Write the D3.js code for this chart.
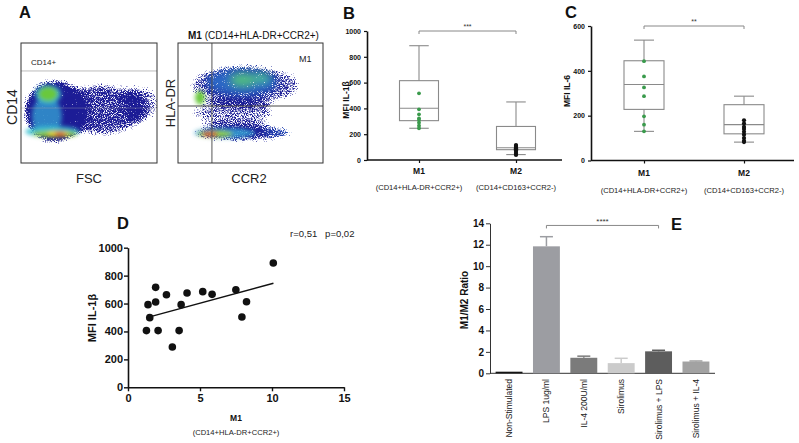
<!DOCTYPE html>
<html><head><meta charset="utf-8">
<script src="https://cdn.jsdelivr.net/npm/d3@7"></script>
<style>body{margin:0;background:#fff}svg{display:block}text{font-family:"Liberation Sans",Arial,sans-serif}</style>
</head><body><svg id="c" width="799" height="443"></svg>
<script>
// ---------------- DATA ----------------
// Panel A: flow cytometry density regions (channel units 0-1000), density level 0..1
const flowDomain = [0, 1000];
const fscCd14Clusters = [
  {x: 250, y: 430, sx: 235, sy: 270, level: 0.0, op: 0.95, grain: true},
  {x: 590, y: 445, sx: 340, sy: 225, level: 0.0, op: 0.74, grain: true},
  {x: 880, y: 500, sx: 150, sy: 165, level: 0.0, op: 0.6, grain: true},
  {x: 190, y: 390, sx: 110, sy: 165, level: 0.3, op: 0.8, grain: false},
  {x: 199, y: 572, sx: 95, sy: 80, level: 0.36, op: 0.9, grain: false},
  {x: 199, y: 575, sx: 72, sy: 62, level: 0.55, op: 1, grain: false},
  {x: 230, y: 262, sx: 200, sy: 45, level: 0.38, op: 0.9, grain: false},
  {x: 250, y: 242, sx: 165, sy: 28, level: 0.6, op: 1, grain: false},
  {x: 272, y: 242, sx: 80, sy: 20, level: 0.75, op: 1, grain: false},
  {x: 287, y: 242, sx: 40, sy: 14, level: 0.95, op: 1, grain: false}
];
const cd14Gate = 767;
const cd14Ghost = 458;
const ccr2HlaClusters = [
  {x: 462, y: 650, sx: 390, sy: 180, level: 0.0, op: 0.68, grain: true},
  {x: 440, y: 675, sx: 250, sy: 110, level: 0.22, op: 0.75, grain: true},
  {x: 448, y: 692, sx: 90, sy: 55, level: 0.48, op: 0.9, grain: true},
  {x: 579, y: 708, sx: 60, sy: 45, level: 0.45, op: 0.9, grain: true},
  {x: 152, y: 545, sx: 34, sy: 58, level: 0.55, op: 1, grain: false},
  {x: 380, y: 420, sx: 300, sy: 120, level: 0.0, op: 0.62, grain: true},
  {x: 440, y: 250, sx: 345, sy: 75, level: 0.0, op: 0.85, grain: true},
  {x: 700, y: 255, sx: 130, sy: 35, level: 0.15, op: 0.7, grain: true},
  {x: 324, y: 250, sx: 210, sy: 42, level: 0.3, op: 0.9, grain: false},
  {x: 255, y: 242, sx: 120, sy: 28, level: 0.6, op: 1, grain: false},
  {x: 221, y: 242, sx: 55, sy: 17, level: 0.92, op: 1, grain: false}
];
const ccr2Gate = 234;
const hlaGate = 475;

// Panels B & C: box plots
const groups = ["M1", "M2"];
const groupSubtitles = ["(CD14+HLA-DR+CCR2+)", "(CD14+CD163+CCR2-)"];
// [min, q1, median, q3, max]
const il1bStats = [[246, 305, 401, 615, 886], [42, 80, 95, 260, 450]];
const il1bDots = [[517, 393, 354, 323, 310, 289, 266, 246], [116, 108, 100, 92, 84, 74, 62, 48, 39]];
const il1bTicks = [0, 200, 400, 600, 800, 1000];
const il6Stats = [[130, 228, 339, 445, 537], [82, 119, 160, 249, 287]];
const il6Dots = [[443, 375, 326, 287, 197, 160, 130], [179, 165, 150, 140, 128, 115, 100, 88, 82]];
const il6Ticks = [0, 200, 400, 600];

// Panel D: correlation
const corrX = [1.28, 1.39, 1.51, 1.92, 1.92, 2.09, 2.67, 3.08, 3.55, 3.69, 4.10, 5.19, 5.84, 7.49, 7.91, 8.23, 10.09];
const corrY = [406, 592, 499, 716, 611, 406, 663, 289, 406, 592, 675, 685, 666, 699, 504, 613, 890];
const fitX = [1.5, 10.1];
const fitY = [504, 745];
const corrXTicks = [0, 5, 10, 15];
const corrYTicks = [0, 200, 400, 600, 800, 1000];

// Panel E: bar chart
const conditions = ["Non-Stimulated", "LPS 1ug/ml", "IL-4 200U/ml", "Sirolimus", "Sirolimus + LPS", "Sirolimus + IL-4"];
const ratioMean = [0.15, 11.85, 1.45, 0.95, 2.05, 1.1];
const ratioUpper = [0.15, 12.75, 1.6, 1.4, 2.15, 1.15];
const ratioTicks = [0, 2, 4, 6, 8, 10, 12, 14];
const barColors = ["#151515", "#9c9da2", "#7b7b7b", "#cbcbcb", "#5d5d5d", "#a2a2a2"];

// ---------------- DRAW ----------------
const svg = d3.select("#c");
svg.append("rect").attr("width", 799).attr("height", 443).attr("fill", "#fff");
const defs = svg.append("defs");
const blur = defs.append("filter").attr("id", "blur").attr("x", "-20%").attr("y", "-20%").attr("width", "140%").attr("height", "140%");
blur.append("feGaussianBlur").attr("stdDeviation", 2);

// grainy density filter: dense cores solid, sparse edges become scattered events
const sp = defs.append("filter").attr("id", "speck").attr("x", "-20%").attr("y", "-20%").attr("width", "140%").attr("height", "140%")
  .attr("color-interpolation-filters", "sRGB");
sp.append("feGaussianBlur").attr("in", "SourceGraphic").attr("stdDeviation", 4).attr("result", "b");
const bs = sp.append("feComponentTransfer").attr("in", "b").attr("result", "bsolid");
bs.append("feFuncA").attr("type", "discrete").attr("tableValues", "0 1 1 1 1 1 1 1 1 1 1 1 1 1 1 1 1 1 1 1");
sp.append("feColorMatrix").attr("in", "b").attr("type", "matrix")
  .attr("values", "0 0 0 0 1  0 0 0 0 1  0 0 0 0 1  0 0 0 1 0").attr("result", "bA");
sp.append("feTurbulence").attr("type", "fractalNoise").attr("baseFrequency", 1.1).attr("numOctaves", 2).attr("seed", 7).attr("result", "n");
sp.append("feColorMatrix").attr("in", "n").attr("type", "matrix")
  .attr("values", "0 0 0 0 1  0 0 0 0 1  0 0 0 0 1  1 0 0 0 0").attr("result", "nA");
sp.append("feComposite").attr("in", "bA").attr("in2", "nA").attr("operator", "arithmetic")
  .attr("k1", 0).attr("k2", 0.5).attr("k3", 0.5).attr("k4", 0).attr("result", "sum");
const mk = sp.append("feComponentTransfer").attr("in", "sum").attr("result", "mask");
mk.append("feFuncA").attr("type", "linear").attr("slope", 10).attr("intercept", -5.3);
sp.append("feComposite").attr("in", "bsolid").attr("in2", "mask").attr("operator", "in");

const jet = d3.scaleLinear()
  .domain([0, 0.2, 0.38, 0.55, 0.75, 0.92])
  .range(["#1c1d96", "#2f6fd0", "#37c2d3", "#69c83c", "#f1d21f", "#e2331c"]);

function panelLabel(t, x, y) {
  svg.append("text").attr("x", x).attr("y", y).attr("font-size", 16.5).attr("font-weight", "bold").attr("fill", "#111").text(t);
}

// ---- Panel A ----
function flowPlot(x0, x1, y0, y1, clusters, clipId) {
  const xs = d3.scaleLinear().domain(flowDomain).range([x0, x1]);
  const ys = d3.scaleLinear().domain(flowDomain).range([y1, y0]);
  defs.append("clipPath").attr("id", clipId).append("rect")
    .attr("x", x0).attr("y", y0).attr("width", x1 - x0).attr("height", y1 - y0);
  const root = svg.append("g").attr("clip-path", `url(#${clipId})`);
  const gGrain = root.append("g").attr("filter", "url(#speck)");
  const gSolid = root.append("g").attr("filter", "url(#blur)");
  const draw = (g, data) => g.selectAll("ellipse").data(data).join("ellipse")
    .attr("cx", d => xs(d.x)).attr("cy", d => ys(d.y))
    .attr("rx", d => xs(d.sx) - xs(0)).attr("ry", d => ys(0) - ys(d.sy))
    .attr("fill", d => jet(d.level)).attr("opacity", d => d.op);
  draw(gGrain, clusters.filter(d => d.grain));
  draw(gSolid, clusters.filter(d => !d.grain));
  return {xs, ys};
}
panelLabel("A", 19, 18);
const p1 = flowPlot(21, 157, 43, 163, fscCd14Clusters, "clipA1");
svg.append("line").attr("x1", 21).attr("x2", 157).attr("y1", p1.ys(cd14Gate)).attr("y2", p1.ys(cd14Gate)).attr("stroke", "#bbb").attr("stroke-width", 1);
svg.append("line").attr("x1", 21).attr("x2", 157).attr("y1", p1.ys(cd14Ghost)).attr("y2", p1.ys(cd14Ghost)).attr("stroke", "#aaa").attr("stroke-width", 0.6).attr("opacity", 0.6);
svg.append("rect").attr("x", 21).attr("y", 43).attr("width", 136).attr("height", 120).attr("fill", "none").attr("stroke", "#333").attr("stroke-width", 1);
svg.append("text").attr("x", 31).attr("y", 65).attr("font-size", 8).attr("fill", "#222").text("CD14+");
svg.append("text").attr("transform", "translate(17,107) rotate(-90)").attr("text-anchor", "middle").attr("font-size", 14).attr("fill", "#222").text("CD14");
svg.append("text").attr("x", 89).attr("y", 183).attr("text-anchor", "middle").attr("font-size", 13).attr("fill", "#222").text("FSC");

const p2 = flowPlot(178, 323, 43, 163, ccr2HlaClusters, "clipA2");
svg.append("line").attr("x1", p2.xs(ccr2Gate)).attr("x2", p2.xs(ccr2Gate)).attr("y1", 43).attr("y2", 163).attr("stroke", "#555").attr("stroke-width", 1);
svg.append("line").attr("x1", 178).attr("x2", 323).attr("y1", p2.ys(hlaGate)).attr("y2", p2.ys(hlaGate)).attr("stroke", "#444").attr("stroke-width", 1);
svg.append("rect").attr("x", 178).attr("y", 43).attr("width", 145).attr("height", 120).attr("fill", "none").attr("stroke", "#333").attr("stroke-width", 1);
svg.append("text").attr("x", 299).attr("y", 62).attr("font-size", 9).attr("fill", "#222").text("M1");
const tA = svg.append("text").attr("x", 188).attr("y", 39).attr("font-size", 10).attr("fill", "#111");
tA.append("tspan").attr("font-weight", "bold").text("M1");
tA.append("tspan").text(" (CD14+HLA-DR+CCR2+)");
svg.append("text").attr("transform", "translate(175,103) rotate(-90)").attr("text-anchor", "middle").attr("font-size", 13).attr("fill", "#222").text("HLA-DR");
svg.append("text").attr("x", 249).attr("y", 183).attr("text-anchor", "middle").attr("font-size", 13).attr("fill", "#222").text("CCR2");

// ---- Box plots ----
function boxPanel(o) {
  const y = d3.scaleLinear().domain([0, o.max]).range([o.y0, o.y1]);
  const x = d3.scalePoint().domain(groups).range(o.xr);
  const g = svg.append("g");
  const ya = g.append("g").attr("transform", `translate(${o.ax},0)`)
    .call(d3.axisLeft(y).tickValues(o.ticks).tickFormat(d3.format("d")).tickSize(3).tickSizeOuter(0));
  ya.select(".domain").attr("stroke", "#111").attr("stroke-width", 1.6);
  ya.selectAll(".tick line").attr("stroke", "#111").attr("stroke-width", 1.2);
  ya.selectAll("text").attr("font-size", 7).attr("font-weight", "bold").attr("fill", "#111").attr("font-family", "Liberation Sans, Arial");
  const xa = g.append("g").attr("transform", `translate(0,${o.y0})`)
    .call(d3.axisBottom(x).tickSize(3).tickFormat(""));
  xa.select(".domain").remove();
  xa.selectAll(".tick line").attr("stroke", "#111").attr("stroke-width", 1.2);
  g.append("line").attr("x1", o.ax).attr("x2", o.axEnd).attr("y1", o.y0).attr("y2", o.y0).attr("stroke", "#111").attr("stroke-width", 1.6);
  groups.forEach((grp, i) => {
    g.append("text").attr("x", x(grp)).attr("y", o.y0 + 13.5 + (o.lblShift || 0)).attr("text-anchor", "middle").attr("font-size", 8.5).attr("font-weight", "bold").attr("fill", "#111").text(grp);
    g.append("text").attr("x", x(grp)).attr("y", o.y0 + 30 + (o.lblShift || 0)).attr("text-anchor", "middle").attr("font-size", 7.6).attr("fill", "#222").text(groupSubtitles[i]);
  });
  g.append("text").attr("transform", `translate(${o.labX},${o.labY}) rotate(-90)`).attr("text-anchor", "middle")
    .attr("font-size", o.labSize).attr("font-weight", "bold").attr("fill", "#111").text(o.label);
  const bw = o.bw;
  groups.forEach((grp, i) => {
    const s = o.stats[i], cx = x(grp);
    const line = (x1, y1, x2, y2) => g.append("line").attr("x1", x1).attr("y1", y1).attr("x2", x2).attr("y2", y2).attr("stroke", "#8a8a8a").attr("stroke-width", 1.1);
    line(cx, y(s[4]), cx, y(s[3]));
    line(cx, y(s[1]), cx, y(s[0]));
    line(cx - bw / 4, y(s[4]), cx + bw / 4, y(s[4]));
    line(cx - bw / 4, y(s[0]), cx + bw / 4, y(s[0]));
    g.append("rect").attr("x", cx - bw / 2).attr("y", y(s[3])).attr("width", bw).attr("height", y(s[1]) - y(s[3]))
      .attr("fill", "none").attr("stroke", "#8a8a8a").attr("stroke-width", 1.1);
    line(cx - bw / 2, y(s[2]), cx + bw / 2, y(s[2]));
    g.selectAll(null).data(o.dots[i]).join("circle")
      .attr("cx", cx).attr("cy", d => y(d)).attr("r", i === 0 ? 1.9 : 2.1)
      .attr("fill", i === 0 ? "#3a9a4c" : "#111");
  });
  const by = y(o.max);
  g.append("path").attr("d", `M${x("M1")},${by + 3}V${by}H${x("M2")}V${by + 3}`).attr("fill", "none").attr("stroke", "#888").attr("stroke-width", 1);
  g.append("text").attr("x", (x("M1") + x("M2")) / 2).attr("y", by - 2.5).attr("text-anchor", "middle").attr("font-size", 7).attr("fill", "#333").text(o.sig);
}
panelLabel("B", 343, 19);
boxPanel({max: 1000, y0: 160, y1: 31, xr: [419, 516], ax: 367, axEnd: 562, ticks: il1bTicks, stats: il1bStats, dots: il1bDots,
  bw: 39, label: "MFI IL-1β", labX: 349, labY: 100, labSize: 8.5, sig: "***"});
panelLabel("C", 565, 18);
boxPanel({max: 600, y0: 160.5, y1: 26, xr: [644, 744], ax: 591, axEnd: 794, ticks: il6Ticks, stats: il6Stats, dots: il6Dots,
  bw: 40, label: "MFI IL-6", labX: 570, labY: 91, labSize: 8.5, sig: "**", lblShift: 2});

// ---- Panel D ----
panelLabel("D", 117, 229);
{
  const x = d3.scaleLinear().domain([0, 15]).range([128, 344]);
  const y = d3.scaleLinear().domain([0, 1000]).range([387.3, 247.7]);
  const g = svg.append("g");
  const ya = g.append("g").attr("transform", "translate(128,0)").call(d3.axisLeft(y).tickValues(corrYTicks).tickFormat(d3.format("d")).tickSize(4).tickSizeOuter(0));
  const xa = g.append("g").attr("transform", "translate(0,387.3)").call(d3.axisBottom(x).tickValues(corrXTicks).tickFormat(d3.format("d")).tickSize(4).tickSizeOuter(0));
  [ya, xa].forEach(a => {
    a.select(".domain").attr("stroke", "#111").attr("stroke-width", 1.6);
    a.selectAll(".tick line").attr("stroke", "#111").attr("stroke-width", 1.4);
    a.selectAll("text").attr("font-size", 11).attr("font-weight", "bold").attr("fill", "#111").attr("font-family", "Liberation Sans, Arial");
  });
  ya.selectAll("text").attr("x", -5);
  g.append("line").attr("x1", x(fitX[0])).attr("y1", y(fitY[0])).attr("x2", x(fitX[1])).attr("y2", y(fitY[1])).attr("stroke", "#111").attr("stroke-width", 1.4);
  g.selectAll(null).data(corrX).join("circle").attr("cx", d => x(d)).attr("cy", (d, i) => y(corrY[i])).attr("r", 3.8).attr("fill", "#111");
  g.append("text").attr("transform", "translate(96,318) rotate(-90)").attr("text-anchor", "middle").attr("font-size", 11).attr("font-weight", "bold").attr("fill", "#111").text("MFI IL-1β");
  g.append("text").attr("x", 290).attr("y", 237).attr("font-size", 9.5).attr("fill", "#222").attr("xml:space", "preserve").text("r=0,51   p=0,02");
  g.append("text").attr("x", 236).attr("y", 421).attr("text-anchor", "middle").attr("font-size", 8.5).attr("font-weight", "bold").attr("fill", "#111").text("M1");
  g.append("text").attr("x", 236).attr("y", 435).attr("text-anchor", "middle").attr("font-size", 7.6).attr("fill", "#222").text("(CD14+HLA-DR+CCR2+)");
}

// ---- Panel E ----
panelLabel("E", 671, 230);
{
  const x = d3.scaleBand().domain(conditions).range([490, 715]).paddingInner(0.28).paddingOuter(0.15);
  const y = d3.scaleLinear().domain([0, 14]).range([373.3, 223.3]);
  const g = svg.append("g");
  const ya = g.append("g").attr("transform", "translate(490,0)").call(d3.axisLeft(y).tickValues(ratioTicks).tickFormat(d3.format("d")).tickSize(4).tickSizeOuter(0));
  ya.select(".domain").attr("stroke", "#333").attr("stroke-width", 1);
  ya.selectAll(".tick line").attr("stroke", "#333");
  ya.selectAll("text").attr("font-size", 10).attr("font-weight", "bold").attr("fill", "#111").attr("font-family", "Liberation Sans, Arial").attr("x", -6);
  g.append("line").attr("x1", 490).attr("x2", 715).attr("y1", 373.3).attr("y2", 373.3).attr("stroke", "#333").attr("stroke-width", 1);
  conditions.forEach((c, i) => {
    const cx = x(c) + x.bandwidth() / 2;
    if (ratioUpper[i] > ratioMean[i]) {
      g.append("line").attr("x1", cx).attr("x2", cx).attr("y1", y(ratioMean[i])).attr("y2", y(ratioUpper[i])).attr("stroke", barColors[i]).attr("stroke-width", 1.5);
      g.append("line").attr("x1", cx - 6.5).attr("x2", cx + 6.5).attr("y1", y(ratioUpper[i])).attr("y2", y(ratioUpper[i])).attr("stroke", barColors[i]).attr("stroke-width", 1.5);
    }
  });
  g.selectAll(null).data(conditions).join("rect")
    .attr("x", d => x(d)).attr("width", x.bandwidth())
    .attr("y", (d, i) => y(ratioMean[i])).attr("height", (d, i) => y(0) - y(ratioMean[i]))
    .attr("fill", (d, i) => barColors[i]);
  conditions.forEach((c, i) => {
    g.append("text").attr("transform", `translate(${x(c) + x.bandwidth() / 2 + 3},379) rotate(-90)`).attr("text-anchor", "end")
      .attr("font-size", 8.5).attr("fill", "#222").text(c);
  });
  g.append("text").attr("transform", "translate(468,300) rotate(-90)").attr("text-anchor", "middle").attr("font-size", 10).attr("font-weight", "bold").attr("fill", "#111").text("M1/M2 Ratio");
  const b1 = x(conditions[1]) + x.bandwidth() / 2, b2 = x(conditions[4]) + x.bandwidth() / 2, by = y(13.8);
  g.append("path").attr("d", `M${b1},${by + 3}V${by}H${b2}V${by + 3}`).attr("fill", "none").attr("stroke", "#888").attr("stroke-width", 1);
  g.append("text").attr("x", (b1 + b2) / 2).attr("y", by - 1.5).attr("text-anchor", "middle").attr("font-size", 8).attr("fill", "#333").text("****");
}
</script></body></html>
